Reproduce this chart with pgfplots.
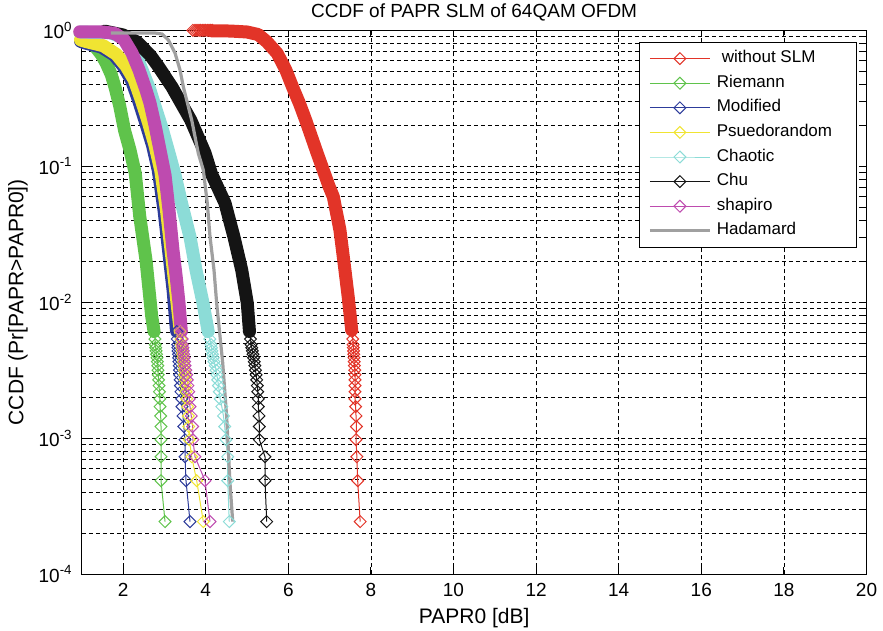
\documentclass[border=0pt]{standalone}
\usepackage{fontspec}
\setmainfont{Liberation Sans}
\usepackage{pgfplots}
\pgfplotsset{compat=1.18}
\definecolor{cRed}{RGB}{226,52,40}
\definecolor{cGreen}{RGB}{95,195,75}
\definecolor{cBlue}{RGB}{45,60,155}
\definecolor{cYellow}{RGB}{240,228,50}
\definecolor{cCyan}{RGB}{140,220,215}
\definecolor{cBlack}{RGB}{20,20,20}
\definecolor{cMag}{RGB}{190,75,175}
\definecolor{cGray}{RGB}{160,160,160}
\pgfplotsset{
  band/.style={#1, line width=6.5pt, line cap=round, line join=round, mark=none, forget plot},
  tail/.style={#1, line width=0.5pt, mark=square, mark size=2.1pt, mark options={rotate=45, solid, line width=0.5pt}},
}
\begin{document}
\begin{tikzpicture}
\useasboundingbox (-40.9pt,-28.35pt) rectangle (400.6pt,287.15pt);
\begin{axis}[
  at={(0pt,0pt)}, anchor=south west, scale only axis,
  width=392.35pt, height=272pt,
  xmin=1, xmax=20, ymin=1e-4, ymax=1, ymode=log, log basis y=10,
  clip=false,
  xtick={2,4,6,8,10,12,14,16,18,20},
  ytick={1e-4,1e-3,1e-2,1e-1,1},
  yticklabels={10\textsuperscript{-4},10\textsuperscript{-3},10\textsuperscript{-2},10\textsuperscript{-1},10\textsuperscript{0}},
  minor ytick={2e-4,3e-4,4e-4,5e-4,6e-4,7e-4,8e-4,9e-4,2e-3,3e-3,4e-3,5e-3,6e-3,7e-3,8e-3,9e-3,2e-2,3e-2,4e-2,5e-2,6e-2,7e-2,8e-2,9e-2,0.2,0.3,0.4,0.5,0.6,0.7,0.8,0.9},
  xmajorgrids=true, ymajorgrids=true, yminorgrids=true,
  major grid style={black, line width=0.4pt, dash pattern=on 2pt off 1.5pt},
  minor grid style={black, line width=0.4pt, dash pattern=on 2pt off 1.5pt},
  tick align=inside, major tick length=3.5pt, minor tick length=2pt,
  tick style={black, line width=0.5pt},
  axis line style={black, line width=0.7pt},
  /pgf/number format/assume math mode=true,
  ticklabel style={font=\fontsize{9.5}{11}\selectfont},
  xticklabel style={anchor=center, yshift=-7.85pt},
  yticklabel style={anchor=east, inner sep=0pt, xshift=-4.4pt},
  title={CCDF of PAPR SLM of 64QAM OFDM},
  every axis title/.style={at={(axis description cs:0.5,1)}, anchor=center, yshift=9.15pt, font=\fontsize{9.5}{11}\selectfont},
  xlabel={PAPR0 [dB]},
  every axis x label/.style={at={(axis description cs:0.5,0)}, anchor=center, yshift=-21.85pt, font=\fontsize{10.5}{12}\selectfont},
  ylabel={CCDF (Pr[PAPR>PAPR0])},
  every axis y label/.style={at={(axis description cs:0,0.5)}, xshift=-31.9pt, rotate=90, anchor=center, font=\fontsize{10.5}{12}\selectfont},
  legend image code/.code={\draw[mark repeat=2,mark phase=2] plot coordinates {(0pt,0pt) (15pt,0pt) (30pt,0pt)};},
  legend style={at={(1,1)}, anchor=north east, xshift=-4.75pt, yshift=-5.7pt, draw=black, line width=0.6pt, fill=white,
    font=\fontsize{8.5}{10}\selectfont, inner xsep=4.5pt, inner ysep=2pt, row sep=0pt, column sep=1pt,
    nodes={inner sep=1.65pt, text height=6.5pt, text depth=2.5pt}},
  legend cell align=left,
]
% ---------- without SLM (red)
\addplot[band=cRed] coordinates {(4.15,0.99) (4.59,0.988) (5.00,0.972) (5.27,0.931) (5.48,0.824) (5.73,0.678) (5.94,0.511) (6.10,0.385) (6.27,0.29) (6.42,0.219) (6.70,0.1246) (6.99,0.0708) (7.09,0.0598) (7.25,0.034) (7.35,0.0195) (7.45,0.011) (7.535,0.00626)};
\addplot[cRed, only marks, mark=square, mark size=2.1pt, mark options={rotate=45, line width=0.5pt}, forget plot] coordinates {(3.69,1) (3.74,1) (3.79,1) (3.84,1) (3.88,1) (3.92,1) (3.96,1) (4.00,1) (4.04,1) (4.08,1) (4.12,1) (4.16,1)};
\addplot[tail=cRed] coordinates {(7.545,0.0061) (7.56,0.00537) (7.57,0.00488) (7.575,0.00464) (7.58,0.00439) (7.585,0.00415) (7.59,0.00391) (7.595,0.00366) (7.60,0.00342) (7.61,0.00317) (7.615,0.00293) (7.615,0.00269) (7.615,0.00244) (7.615,0.00220) (7.615,0.00195) (7.63,0.00171) (7.64,0.00146) (7.65,0.00122) (7.64,0.000977) (7.66,0.000732) (7.68,0.000488) (7.74,0.000244)};
\addlegendentry{\hspace{0.3em}without SLM}
% ---------- Riemann (green)
\addplot[band=cGreen] coordinates {(0.96,0.96) (1.005,0.94) (1.15,0.862) (1.312,0.765) (1.472,0.665) (1.593,0.571) (1.714,0.472) (1.811,0.375) (1.918,0.2776) (2.039,0.1818) (2.167,0.1318) (2.295,0.0886) (2.402,0.0431) (2.554,0.0205) (2.692,0.00793) (2.75,0.0061)};
\addplot[tail=cGreen] coordinates {(2.75,0.0061) (2.77,0.00537) (2.78,0.00488) (2.79,0.00464) (2.80,0.00439) (2.81,0.00415) (2.82,0.00391) (2.83,0.00366) (2.84,0.00342) (2.845,0.00317) (2.85,0.00293) (2.86,0.00269) (2.87,0.00244) (2.88,0.00220) (2.89,0.00195) (2.895,0.00171) (2.91,0.00146) (2.918,0.00122) (2.918,0.000977) (2.918,0.000732) (2.918,0.000488) (3.015,0.000244)};
\addlegendentry{Riemann}
% ---------- Modified (blue)
\addplot[band=cBlue] coordinates {(0.97,0.83) (1.077,0.807) (1.47,0.754) (1.78,0.659) (2.00,0.547) (2.20,0.432) (2.37,0.308) (2.54,0.212) (2.71,0.1434) (2.85,0.0939) (2.99,0.0477) (3.10,0.0242) (3.21,0.01231) (3.29,0.00626) (3.30,0.0061)};
\addplot[tail=cBlue] coordinates {(3.30,0.0061) (3.31,0.00537) (3.32,0.00488) (3.325,0.00464) (3.33,0.00439) (3.34,0.00415) (3.345,0.00391) (3.35,0.00366) (3.36,0.00342) (3.365,0.00317) (3.37,0.00293) (3.38,0.00269) (3.39,0.00244) (3.40,0.00220) (3.42,0.00195) (3.426,0.00171) (3.45,0.00146) (3.47,0.00122) (3.499,0.000977) (3.499,0.000732) (3.523,0.000488) (3.620,0.000244)};
\addlegendentry{Modified}
% ---------- Psuedorandom (yellow)
\addplot[band=cYellow] coordinates {(0.97,0.85) (1.08,0.83) (1.52,0.77) (1.84,0.665) (2.07,0.547) (2.27,0.432) (2.44,0.308) (2.61,0.212) (2.77,0.1434) (2.91,0.0939) (3.05,0.0477) (3.16,0.0242) (3.27,0.01231) (3.385,0.0061)};
\addplot[tail=cYellow] coordinates {(3.39,0.0061) (3.40,0.00537) (3.41,0.00488) (3.42,0.00464) (3.43,0.00439) (3.44,0.00415) (3.45,0.00391) (3.46,0.00366) (3.47,0.00342) (3.48,0.00317) (3.49,0.00293) (3.50,0.00269) (3.51,0.00244) (3.52,0.00220) (3.54,0.00195) (3.56,0.00171) (3.579,0.00146) (3.59,0.00122) (3.603,0.000977) (3.661,0.000732) (3.782,0.000488) (3.942,0.000244)};
\addlegendentry{Psuedorandom\rule{6pt}{0pt}}
% ---------- Chaotic (cyan)
\addplot[band=cCyan] coordinates {(0.97,0.97) (1.70,0.96) (2.03,0.87) (2.29,0.681) (2.46,0.511) (2.65,0.364) (2.748,0.292) (2.942,0.191) (3.111,0.1253) (3.257,0.0863) (3.426,0.0519) (3.620,0.0302) (3.765,0.01728) (3.935,0.00988) (4.06,0.0061)};
\addplot[tail=cCyan] coordinates {(4.06,0.0061) (4.10,0.00537) (4.13,0.00488) (4.14,0.00464) (4.15,0.00439) (4.165,0.00415) (4.18,0.00391) (4.20,0.00366) (4.23,0.00342) (4.25,0.00317) (4.27,0.00293) (4.29,0.00269) (4.31,0.00244) (4.33,0.00220) (4.35,0.00195) (4.39,0.00171) (4.43,0.00146) (4.46,0.00122) (4.49,0.000977) (4.533,0.000732) (4.533,0.000488) (4.571,0.000244)};
\addlegendentry{Chaotic}
% ---------- Chu (black)
\addplot[band=cBlack] coordinates {(1.56,0.985) (2.00,0.924) (2.337,0.821) (2.651,0.659) (2.845,0.547) (3.184,0.383) (3.637,0.219) (3.983,0.1253) (4.14,0.088) (4.467,0.0537) (4.685,0.0302) (4.872,0.01728) (5.007,0.00988) (5.06,0.0061)};
\addplot[tail=cBlack] coordinates {(5.06,0.0061) (5.085,0.00537) (5.10,0.00488) (5.115,0.00464) (5.13,0.00439) (5.145,0.00415) (5.16,0.00391) (5.175,0.00366) (5.19,0.00342) (5.205,0.00317) (5.22,0.00293) (5.235,0.00269) (5.25,0.00244) (5.26,0.00220) (5.274,0.00195) (5.274,0.00171) (5.29,0.00146) (5.298,0.00122) (5.30,0.000977) (5.436,0.000732) (5.436,0.000488) (5.477,0.000244)};
\addlegendentry{Chu}
% ---------- shapiro (magenta)
\addplot[band=cMag] coordinates {(0.95,0.975) (1.45,0.975) (1.80,0.95) (2.02,0.855) (2.215,0.681) (2.385,0.511) (2.554,0.364) (2.651,0.292) (2.772,0.201) (2.893,0.1318) (3.015,0.0863) (3.111,0.0477) (3.208,0.0242) (3.281,0.01587) (3.354,0.00988) (3.41,0.0061)};
\addplot[tail=cMag] coordinates {(3.41,0.0061) (3.43,0.00537) (3.44,0.00488) (3.45,0.00464) (3.46,0.00439) (3.47,0.00415) (3.48,0.00391) (3.49,0.00366) (3.50,0.00342) (3.52,0.00317) (3.54,0.00293) (3.555,0.00269) (3.57,0.00244) (3.59,0.00220) (3.603,0.00195) (3.62,0.00171) (3.65,0.00146) (3.685,0.00122) (3.69,0.000977) (3.741,0.000732) (3.983,0.000488) (4.104,0.000244)};
\addlegendentry{shapiro}
% ---------- Hadamard (gray)
\addplot[cGray, line width=1.6pt, mark=none] coordinates {(1.707,0.955) (2.772,0.955) (2.942,0.939) (3.094,0.851) (3.257,0.681) (3.378,0.511) (3.458,0.385) (3.661,0.219) (3.821,0.1246) (3.942,0.0939) (4.039,0.0534) (4.104,0.0304) (4.201,0.01728) (4.266,0.00983) (4.363,0.00502) (4.412,0.00358) (4.508,0.00144) (4.588,0.000469) (4.654,0.000244)};
\addlegendentry{Hadamard}
\end{axis}
\end{tikzpicture}
\end{document}
